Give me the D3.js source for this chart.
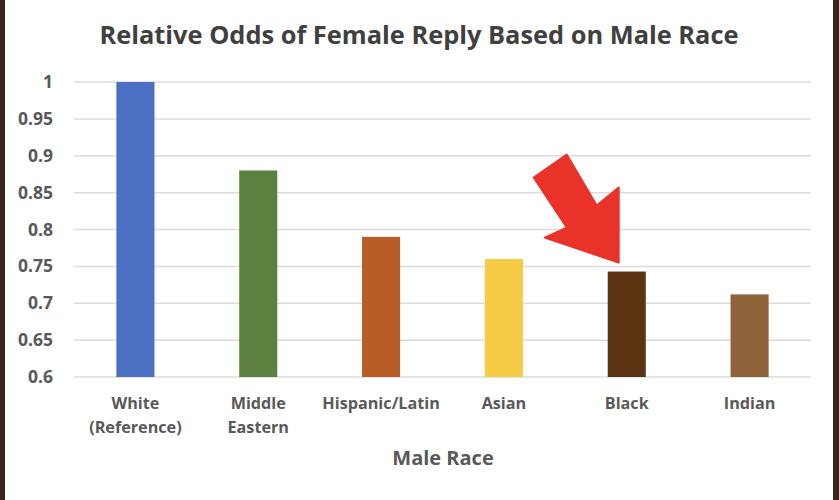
<!DOCTYPE html>
<meta charset="utf-8">
<style>
  body { margin: 0; background: #3b2420; }
  text { font-family: "Open Sans", sans-serif; font-weight: bold; }
</style>
<body>
<div id="chart"></div>
<script src="https://d3js.org/d3.v7.min.js"></script>
<script>

var categories = ["White\n(Reference)", "Middle\nEastern", "Hispanic/Latin", "Asian", "Black", "Indian"];
var odds = [1.0, 0.88, 0.79, 0.76, 0.743, 0.712];
var barColors = ["#4a6fc3", "#5a8140", "#b85d27", "#f6cb46", "#5b3511", "#8f6339"];
var yTicks = [0.6, 0.65, 0.7, 0.75, 0.8, 0.85, 0.9, 0.95, 1];

var W = 839, H = 500;
var margin = {top: 82, right: 28, bottom: 123, left: 74};

var svg = d3.select("#chart").append("svg")
    .attr("width", W)
    .attr("height", H);

// white slide panel
svg.append("rect")
    .attr("x", 5).attr("y", 0)
    .attr("width", 828).attr("height", H)
    .attr("fill", "#ffffff");

var x = d3.scaleBand()
    .domain(categories)
    .range([margin.left, W - margin.right])
    .paddingInner(0.69)
    .paddingOuter(0.345);

var y = d3.scaleLinear()
    .domain([0.6, 1])
    .range([H - margin.bottom, margin.top]);

// gridlines
svg.append("g")
  .selectAll("line")
  .data(yTicks)
  .join("line")
    .attr("x1", margin.left)
    .attr("x2", W - margin.right)
    .attr("y1", d => y(d))
    .attr("y2", d => y(d))
    .attr("stroke", "#dcdcdc")
    .attr("stroke-width", 1.5);

// y axis labels
var yAxis = svg.append("g")
    .attr("transform", "translate(" + (margin.left - 21) + ",0)")
    .call(d3.axisLeft(y).tickValues(yTicks).tickSize(0).tickPadding(0).tickFormat(d3.format("")));
yAxis.select(".domain").remove();
yAxis.selectAll("text")
    .attr("fill", "#595959")
    .style("font-size", "17.5px");

// bars
svg.append("g")
  .selectAll("rect")
  .data(categories)
  .join("rect")
    .attr("x", d => x(d))
    .attr("y", (d, i) => y(odds[i]))
    .attr("width", x.bandwidth())
    .attr("height", (d, i) => y(0.6) - y(odds[i]))
    .attr("fill", (d, i) => barColors[i]);

// x axis labels
var xAxis = svg.append("g")
    .attr("transform", "translate(0," + y(0.6) + ")")
    .call(d3.axisBottom(x).tickSize(0).tickPadding(0));
xAxis.select(".domain").remove();
xAxis.selectAll("text").each(function(d) {
    var t = d3.select(this).text("")
        .attr("fill", "#595959")
        .style("font-size", "16.2px");
    d.split("\n").forEach(function(line, i) {
        t.append("tspan").attr("x", 0).attr("y", 32 + i * 24).text(line);
    });
}).attr("dy", null);

// title
svg.append("text")
    .attr("x", 419).attr("y", 44)
    .attr("text-anchor", "middle")
    .attr("fill", "#404040")
    .style("font-size", "25.4px")
    .text("Relative Odds of Female Reply Based on Male Race");

// axis title
svg.append("text")
    .attr("x", 443).attr("y", 465)
    .attr("text-anchor", "middle")
    .attr("fill", "#595959")
    .style("font-size", "20px")
    .text("Male Race");

// red arrow pointing at Black bar
var tipX = x("Black") + 11, tipY = y(odds[4]) - 9;
var arrow = [[0, 0], [-74, -25], [-52, -35], [-85, -85], [-52, -108], [-22, -57], [0, -75]];
svg.append("path")
    .attr("d", d3.line()(arrow.map(p => [tipX + p[0], tipY + p[1]])) + "Z")
    .attr("fill", "#e8322a")
    .attr("stroke", "#e8322a")
    .attr("stroke-width", 2)
    .attr("stroke-linejoin", "round");

</script>
</body>
